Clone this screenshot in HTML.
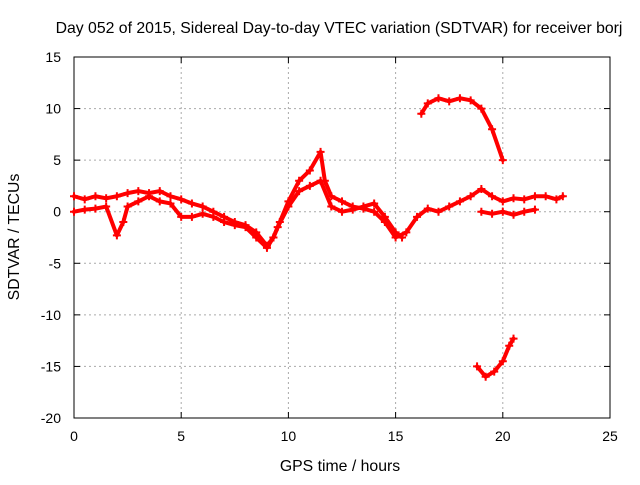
<!DOCTYPE html>
<html><head><meta charset="utf-8"><style>
body{margin:0;background:#fff}
svg text{font-family:"Liberation Sans","DejaVu Sans",sans-serif;font-size:14px;fill:#000}
svg text.big{font-size:15.8px}
</style></head><body>
<svg id="chart" width="640" height="480">
<rect width="640" height="480" fill="#fff"/>
<g id="grid"></g><g id="axes"></g><g id="series"></g>
<text class="big" x="339" y="33" text-anchor="middle">Day 052 of 2015, Sidereal Day-to-day VTEC variation (SDTVAR) for receiver borj</text>
<text class="big" x="340" y="471" text-anchor="middle">GPS time / hours</text>
<text class="big" x="0" y="0" text-anchor="middle" transform="translate(19,237) rotate(-90)">SDTVAR / TECUs</text>
</svg>
<script>
const xTicks=[0,5,10,15,20,25];
const yTicks=[15,10,5,0,-5,-10,-15,-20];
const trackA=[[0,1.5],[0.5,1.2],[1,1.5],[1.5,1.3],[2,1.5],[2.5,1.8],[3,2],[3.5,1.8],[4,2],[4.5,1.5],[5,1.2],[5.5,0.8],[6,0.5],[6.5,0],[7,-0.5],[7.5,-1],[8,-1.3],[8.5,-2],[9,-3.3],[9.3,-2.5],[9.6,-1],[10,1],[10.5,3],[11,4],[11.5,5.8],[11.7,3],[12,1.5],[12.5,1],[13,0.5],[13.5,0.3],[14,0],[14.5,-1],[15,-2.5],[15.5,-2],[16,-0.5],[16.5,0.3],[17,0],[17.5,0.5],[18,1],[18.5,1.5],[19,2.2],[19.5,1.5],[20,1],[20.5,1.3],[21,1.2],[21.5,1.5],[22,1.5],[22.5,1.2],[22.8,1.5]];
const trackB=[[0,0],[0.5,0.2],[1,0.3],[1.5,0.5],[2,-2.3],[2.3,-1],[2.5,0.5],[3,1],[3.5,1.5],[4,1],[4.5,0.8],[5,-0.5],[5.5,-0.5],[6,-0.2],[6.5,-0.5],[7,-1],[7.5,-1.3],[8,-1.5],[8.5,-2.5],[9,-3.5],[9.3,-2.5],[9.5,-1.5],[10,0.5],[10.5,2],[11,2.5],[11.5,3],[12,0.5],[12.5,0],[13,0.2],[13.5,0.5],[14,0.8],[14.5,-0.5],[15,-2],[15.3,-2.5]];
const trackC=[[19,0],[19.5,-0.2],[20,0],[20.5,-0.3],[21,0],[21.5,0.2]];
const trackD=[[16.2,9.5],[16.5,10.5],[17,11],[17.5,10.7],[18,11],[18.5,10.8],[19,10],[19.5,8],[20,5]];
const trackE=[[18.8,-15],[19.2,-16],[19.6,-15.5],[20,-14.5],[20.3,-13],[20.5,-12.3]];
const X0=74,X1=610,Y0=418,Y1=57;
const sx=v=>X0+(v-0)/25*(X1-X0);
const sy=v=>Y0-(v+20)/35*(Y0-Y1);
const NS="http://www.w3.org/2000/svg";
function mk(tag,attrs,parent){const e=document.createElementNS(NS,tag);for(const k in attrs)e.setAttribute(k,attrs[k]);parent.appendChild(e);return e;}
const grid=document.getElementById('grid'),axes=document.getElementById('axes'),ser=document.getElementById('series');
xTicks.forEach(t=>{const x=sx(t);
 if(t>0&&t<25){const g=mk('line',{x1:x,x2:x,y1:Y1,y2:Y0,stroke:'#aaa','stroke-dasharray':'2,3'},grid);}
 mk('line',{x1:x,x2:x,y1:Y0,y2:Y0-6,stroke:'#000'},axes);mk('line',{x1:x,x2:x,y1:Y1,y2:Y1+6,stroke:'#000'},axes);
 const l=mk('text',{x:x,y:Y0+23,'text-anchor':'middle'},axes);l.textContent=t;
 
 });
yTicks.forEach(t=>{const y=sy(t);
 if(t>-20&&t<15){const g=mk('line',{x1:X0,x2:X1,y1:y,y2:y,stroke:'#aaa','stroke-dasharray':'2,3'},grid);}
 mk('line',{x1:X0,x2:X0+6,y1:y,y2:y,stroke:'#000'},axes);mk('line',{x1:X1,x2:X1-6,y1:y,y2:y,stroke:'#000'},axes);
 const l=mk('text',{x:X0-13,y:y+5,'text-anchor':'end'},axes);l.textContent=t;
 
 });
const fr=mk('rect',{x:X0,y:Y1,width:X1-X0,height:Y0-Y1,fill:'none',stroke:'#000'},axes);


[trackA,trackB,trackC,trackD,trackE].forEach((tr,i)=>{
 const g=mk('g',{},ser);
 
 
 mk('polyline',{points:tr.map(p=>sx(p[0])+','+sy(p[1])).join(' '),fill:'none',stroke:'#f00','stroke-width':4,'stroke-linejoin':'round','stroke-linecap':'round'},g);
 tr.forEach(p=>{const x=sx(p[0]),y=sy(p[1]);
  mk('path',{d:`M${x-4},${y}H${x+4}M${x},${y-4}V${y+4}`,stroke:'#f00','stroke-width':2},g);});
});
</script>
</body></html>
